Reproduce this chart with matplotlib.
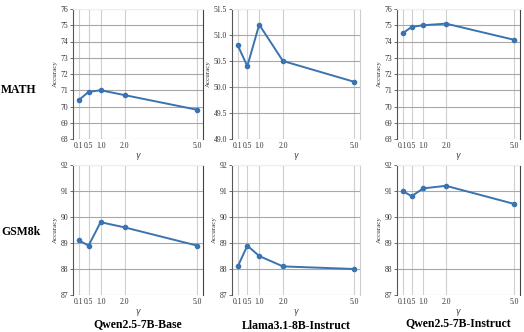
import matplotlib.pyplot as plt
import numpy as np

gammas = [0.1, 0.5, 1.0, 2.0, 5.0]
gamma_labels = ['0.1', '0.5', '1.0', '2.0', '5.0']

models = ['Qwen2.5-7B-Base', 'Llama3.1-8B-Instruct', 'Qwen2.5-7B-Instruct']
datasets = ['MATH', 'GSM8k']

# accuracy per dataset / model
math_qwen_base = [70.4, 70.9, 71.0, 70.7, 69.8]
math_llama = [50.8, 50.4, 51.2, 50.5, 50.1]
math_qwen_inst = [74.5, 74.9, 75.0, 75.1, 74.1]
gsm_qwen_base = [89.1, 88.9, 89.8, 89.6, 88.9]
gsm_llama = [88.1, 88.9, 88.5, 88.1, 88.0]
gsm_qwen_inst = [91.0, 90.8, 91.1, 91.2, 90.5]

rows = [[math_qwen_base, math_llama, math_qwen_inst],
        [gsm_qwen_base, gsm_llama, gsm_qwen_inst]]

ylims = [[(68, 76, 1), (49.0, 51.5, 0.5), (68, 76, 1)],
         [(87, 92, 1), (87, 92, 1), (87, 92, 1)]]

col_x = [(73, 203), (232, 360), (397, 520)]
row_y = [(9, 139), (165, 295)]
W, H = 524, 332

fig = plt.figure(figsize=(5.24, 3.32), dpi=100)
serif = 'Liberation Serif'
line_color = '#3a73b0'

for r in range(2):
    for c in range(3):
        x0, x1 = col_x[c]
        y0, y1 = row_y[r]
        ax = fig.add_axes([x0 / W, 1 - y1 / H, (x1 - x0) / W, (y1 - y0) / H])
        ax.plot(gammas, rows[r][c], color=line_color, lw=1.4, marker='o', ms=3)
        lo, hi, step = ylims[r][c]
        ax.set_ylim(lo, hi)
        yt = np.arange(lo, hi + step / 2, step)
        ax.set_yticks(yt)
        if step < 1:
            ax.set_yticklabels(['%.1f' % v for v in yt])
        else:
            ax.set_yticklabels(['%d' % v for v in yt])
        ax.set_xticks(gammas)
        ax.set_xticklabels(gamma_labels)
        ax.tick_params(axis='x', length=0, labelsize=5.5, pad=2, labelcolor='#333333')
        ax.tick_params(axis='y', length=2, width=0.6, color='#555555', labelsize=5.5,
                       pad=1.5, labelcolor='#333333')
        for lab in ax.get_xticklabels() + ax.get_yticklabels():
            lab.set_family(serif)
        ax.set_xlabel(r'$\gamma$', fontsize=5.5, labelpad=1, color='#333333')
        ax.set_ylabel('Accuracy', fontsize=5, labelpad=2, family=serif, color='#333333')
        ax.grid(axis='y', color='#a8a8a8', lw=0.8)
        ax.grid(axis='x', color='#cfcfcf', lw=0.8)
        ax.set_axisbelow(True)
        ax.spines['left'].set_color('#555555')
        ax.spines['left'].set_linewidth(0.8)
        ax.spines['right'].set_color('#444444' if c != 1 else '#cccccc')
        ax.spines['right'].set_linewidth(0.8)
        ax.spines['top'].set_color('#eeeeee')
        ax.spines['bottom'].set_visible(False)

fig.text(1 / W, 1 - 90 / H, 'MATH', fontsize=8.5, fontweight='bold', family=serif,
         ha='left', va='center')
fig.text(1 / W, 1 - 232 / H, 'GSM8k', fontsize=8.5, fontweight='bold', family=serif,
         ha='left', va='center')

title_y = [324, 326, 323]
for c in range(3):
    x0, x1 = col_x[c]
    fig.text((x0 + x1) / 2 / W, 1 - title_y[c] / H, models[c], fontsize=8.5,
             fontweight='bold', family=serif, ha='center', va='center')

fig.savefig('out.png', dpi=100)
